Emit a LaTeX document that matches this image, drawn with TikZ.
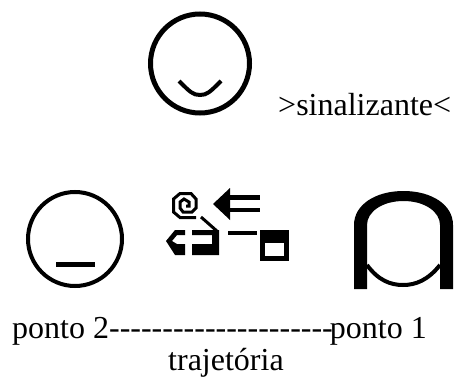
\documentclass[tikz,border=0pt]{standalone}
\usepackage{fontspec}
\setmainfont{Liberation Serif}
\tikzset{
	glyph/.style={draw, line width=#1, line join=miter},
	glyph/.default=4pt,
	label/.style={inner sep=0pt, anchor=base west, font=\fontsize{32}{36}\selectfont}
}

\begin{document}
\begin{tikzpicture}[x=1pt, y=-1pt]
	\useasboundingbox (0,0) rectangle (454,377);
	% sign at the top
	\draw[glyph=5pt] (200,63.5) circle (49.5);
	\draw[glyph] (179,81) .. controls (190,92) and (193,95) .. (200,95) .. controls (207,95) and (210,92) .. (221,81);
	\node[label] (sinalizante) at (278,115) {>sinalizante<};

	% point 2
	\draw[glyph] (75,239) circle (47);
	\draw[glyph=5pt] (56,264.5) -- (95,264.5);

	% movement sign
	\draw[glyph=3pt] (196,217.5) -- (180,217.5) -- (173.5,212) -- (173.5,199) -- (180,193.5) -- (191,193.5) -- (196,199) -- (196,208) -- (192,212) -- (183,212) -- (180,208) -- (180,202) -- (184,199) -- (189,202) -- (189,206) -- (186,206);
	\fill (213,204) -- (230,188) -- (230,220) -- cycle;
	\fill (229,195) rectangle (260,200);
	\fill (229,208) rectangle (260,212);
	\draw[glyph=3pt] (201,217) -- (218,232);
	\fill (192,230) -- (219,230) -- (219,255) -- (192,255) -- (192,244) -- (212,244) -- (212,235) -- (192,235) -- cycle;
	\fill (185,230) -- (185,235) -- (177,235) -- (172,241) -- (177,244) -- (185,244) -- (185,255) -- (175,255) -- (166,241) -- (175,230) -- cycle;
	\fill (228,231) rectangle (257,235);
	\fill (260,230) rectangle (289,261);
	\fill[white] (265,243) rectangle (284,256);

	% point 1
	\fill (354,289) -- (354,225) .. controls (354,205) and (375,191) .. (403.5,191) .. controls (432,191) and (453,205) .. (453,225) -- (453,289) -- (440,289) -- (440,225) .. controls (440,212) and (425,201) .. (403.5,201) .. controls (382,201) and (367,212) .. (367,225) -- (367,289) -- cycle;
	\draw[glyph] (367,265) .. controls (378,280) and (390,285) .. (403,285) .. controls (416,285) and (428,280) .. (440,265);

	% labels
	\node[label] (ponto) at (12,338) {ponto 2-{}-{}-{}-{}-{}-{}-{}-{}-{}-{}-{}-{}-{}-{}-{}-{}-{}-{}-{}-{}-{}\kern-3pt ponto 1};
	\node[label] (trajetoria) at (168,370) {trajetória};
\end{tikzpicture}
\end{document}
